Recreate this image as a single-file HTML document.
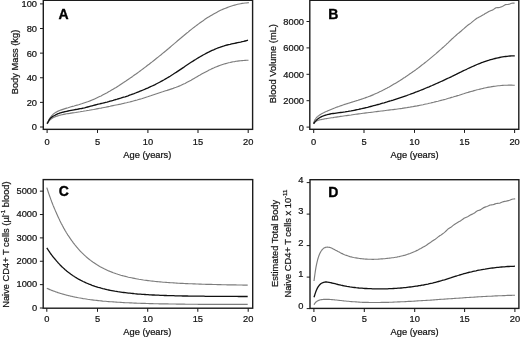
<!DOCTYPE html>
<html lang="en"><head><meta charset="utf-8"><title>Figure</title>
<style>html,body{margin:0;padding:0;background:#fff}svg{display:block;filter:grayscale(1)}text{font-family:"Liberation Sans",Arial,Helvetica,sans-serif;font-size:9.3px;fill:#111;stroke:#111;stroke-width:0.22px}.pl{font-size:14px;font-weight:bold;fill:#000;stroke:#000;stroke-width:0.35px;stroke-linejoin:round}.sup{font-size:6px}</style></head><body>
<svg width="520" height="337" viewBox="0 0 520 337">
<rect width="520" height="337" fill="#fff"/>
<g>
<rect x="43.3" y="0.3" width="209.30" height="129.05" fill="none" stroke="#1c1c1c" stroke-width="1.4"/>
<line x1="47.1" y1="129.35" x2="47.1" y2="132.95" stroke="#1c1c1c" stroke-width="1.05"/>
<text x="47.1" y="145.3" text-anchor="middle">0</text>
<line x1="97.5" y1="129.35" x2="97.5" y2="132.95" stroke="#1c1c1c" stroke-width="1.05"/>
<text x="97.5" y="145.3" text-anchor="middle">5</text>
<line x1="147.9" y1="129.35" x2="147.9" y2="132.95" stroke="#1c1c1c" stroke-width="1.05"/>
<text x="147.9" y="145.3" text-anchor="middle">10</text>
<line x1="198" y1="129.35" x2="198" y2="132.95" stroke="#1c1c1c" stroke-width="1.05"/>
<text x="198" y="145.3" text-anchor="middle">15</text>
<line x1="248.2" y1="129.35" x2="248.2" y2="132.95" stroke="#1c1c1c" stroke-width="1.05"/>
<text x="248.2" y="145.3" text-anchor="middle">20</text>
<line x1="40.00" y1="127.00" x2="43.3" y2="127.00" stroke="#1c1c1c" stroke-width="1.0"/>
<text x="37" y="130.40" text-anchor="end">0</text>
<line x1="40.00" y1="102.38" x2="43.3" y2="102.38" stroke="#1c1c1c" stroke-width="1.0"/>
<text x="37" y="105.78" text-anchor="end">20</text>
<line x1="40.00" y1="77.76" x2="43.3" y2="77.76" stroke="#1c1c1c" stroke-width="1.0"/>
<text x="37" y="81.16" text-anchor="end">40</text>
<line x1="40.00" y1="53.14" x2="43.3" y2="53.14" stroke="#1c1c1c" stroke-width="1.0"/>
<text x="37" y="56.54" text-anchor="end">60</text>
<line x1="40.00" y1="28.52" x2="43.3" y2="28.52" stroke="#1c1c1c" stroke-width="1.0"/>
<text x="37" y="31.92" text-anchor="end">80</text>
<line x1="40.00" y1="3.90" x2="43.3" y2="3.90" stroke="#1c1c1c" stroke-width="1.0"/>
<text x="37" y="7.30" text-anchor="end">100</text>
<text x="147.3" y="158" text-anchor="middle">Age (years)</text>
<text transform="translate(18.4,62) rotate(-90)" text-anchor="middle">Body Mass (kg)</text>
<text class="pl" transform="translate(58.6,18.8)">A</text>
<path d="M47.1,123.3 L47.6,122.4 L48.1,121.4 L48.6,120.4 L49.1,119.5 L49.6,118.6 L50.1,117.8 L50.6,117.1 L51.1,116.5 L51.6,115.9 L52.1,115.3 L52.6,114.8 L53.1,114.3 L53.6,113.9 L54.1,113.5 L54.6,113.1 L55.1,112.8 L55.6,112.4 L56.1,112.2 L56.6,111.9 L57.1,111.6 L57.6,111.4 L58.1,111.1 L58.6,110.9 L59.1,110.7 L59.6,110.5 L60.1,110.3 L60.6,110.1 L62.1,109.6 L63.6,109.1 L65.1,108.6 L66.6,108.1 L68.1,107.7 L69.6,107.2 L71.1,106.8 L72.6,106.4 L74.1,106.0 L75.6,105.5 L77.1,105.1 L78.6,104.7 L80.1,104.2 L81.6,103.8 L83.1,103.3 L84.6,102.8 L86.1,102.3 L87.6,101.8 L89.1,101.2 L90.6,100.6 L92.1,100.0 L93.6,99.4 L95.1,98.7 L96.6,98.0 L98.1,97.3 L99.6,96.6 L101.1,95.9 L102.6,95.1 L104.1,94.3 L105.6,93.5 L107.1,92.7 L108.6,91.8 L110.1,91.0 L111.6,90.1 L113.1,89.2 L114.6,88.3 L116.1,87.4 L117.6,86.4 L119.1,85.5 L120.6,84.5 L122.1,83.5 L123.6,82.6 L125.1,81.6 L126.6,80.5 L128.1,79.5 L129.6,78.5 L131.1,77.4 L132.6,76.4 L134.1,75.3 L135.6,74.3 L137.1,73.2 L138.6,72.1 L140.1,71.0 L141.6,69.9 L143.1,68.8 L144.6,67.6 L146.1,66.5 L147.6,65.3 L149.1,64.2 L150.6,63.0 L152.1,61.9 L153.6,60.7 L155.1,59.5 L156.6,58.3 L158.1,57.1 L159.6,55.9 L161.1,54.7 L162.6,53.4 L164.1,52.2 L165.6,51.0 L167.1,49.7 L168.6,48.5 L170.1,47.2 L171.6,45.9 L173.1,44.6 L174.6,43.4 L176.1,42.1 L177.6,40.8 L179.1,39.5 L180.6,38.3 L182.1,37.0 L183.6,35.8 L185.1,34.5 L186.6,33.3 L188.1,32.1 L189.6,30.8 L191.1,29.6 L192.6,28.4 L194.1,27.3 L195.6,26.1 L197.1,25.0 L198.6,23.9 L200.1,22.8 L201.6,21.7 L203.1,20.7 L204.6,19.6 L206.1,18.6 L207.6,17.6 L209.1,16.7 L210.6,15.8 L212.1,14.9 L213.6,14.0 L215.1,13.2 L216.6,12.4 L218.1,11.6 L219.6,10.8 L221.1,10.1 L222.6,9.4 L224.1,8.8 L225.6,8.2 L227.1,7.6 L228.6,7.0 L230.1,6.5 L231.6,6.0 L233.1,5.5 L234.6,5.1 L236.1,4.7 L237.6,4.3 L239.1,4.0 L240.6,3.7 L242.1,3.4 L243.6,3.2 L245.1,3.0 L246.6,2.9 L248.1,2.7 L249.0,2.7" fill="none" stroke="#7d7d7d" stroke-width="1.15" stroke-linejoin="round" stroke-linecap="butt"/>
<path d="M47.1,124.1 L47.6,123.0 L48.1,122.2 L48.6,121.5 L49.1,120.9 L49.6,120.3 L50.1,119.8 L50.6,119.4 L51.1,119.0 L51.6,118.7 L52.1,118.3 L52.6,118.0 L53.1,117.7 L53.6,117.5 L54.1,117.2 L54.6,117.0 L55.1,116.8 L55.6,116.6 L56.1,116.4 L56.6,116.2 L57.1,116.1 L57.6,115.9 L58.1,115.7 L58.6,115.6 L59.1,115.4 L59.6,115.3 L60.1,115.2 L60.6,115.0 L62.1,114.7 L63.6,114.4 L65.1,114.1 L66.6,113.8 L68.1,113.6 L69.6,113.4 L71.1,113.1 L72.6,112.9 L74.1,112.7 L75.6,112.5 L77.1,112.2 L78.6,112.0 L80.1,111.8 L81.6,111.5 L83.1,111.3 L84.6,111.0 L86.1,110.8 L87.6,110.5 L89.1,110.3 L90.6,110.0 L92.1,109.7 L93.6,109.5 L95.1,109.2 L96.6,108.9 L98.1,108.6 L99.6,108.3 L101.1,108.1 L102.6,107.8 L104.1,107.5 L105.6,107.2 L107.1,106.9 L108.6,106.6 L110.1,106.3 L111.6,105.9 L113.1,105.6 L114.6,105.3 L116.1,105.0 L117.6,104.7 L119.1,104.4 L120.6,104.1 L122.1,103.7 L123.6,103.4 L125.1,103.0 L126.6,102.7 L128.1,102.3 L129.6,102.0 L131.1,101.6 L132.6,101.2 L134.1,100.8 L135.6,100.4 L137.1,100.0 L138.6,99.5 L140.1,99.1 L141.6,98.7 L143.1,98.2 L144.6,97.7 L146.1,97.2 L147.6,96.8 L149.1,96.3 L150.6,95.8 L152.1,95.2 L153.6,94.7 L155.1,94.2 L156.6,93.7 L158.1,93.2 L159.6,92.7 L161.1,92.2 L162.6,91.8 L164.1,91.3 L165.6,90.8 L167.1,90.4 L168.6,89.9 L170.1,89.4 L171.6,88.9 L173.1,88.4 L174.6,87.8 L176.1,87.3 L177.6,86.7 L179.1,86.1 L180.6,85.5 L182.1,84.8 L183.6,84.1 L185.1,83.4 L186.6,82.6 L188.1,81.8 L189.6,81.0 L191.1,80.2 L192.6,79.3 L194.1,78.4 L195.6,77.6 L197.1,76.7 L198.6,75.8 L200.1,75.0 L201.6,74.1 L203.1,73.3 L204.6,72.5 L206.1,71.7 L207.6,70.9 L209.1,70.1 L210.6,69.4 L212.1,68.6 L213.6,68.0 L215.1,67.3 L216.6,66.7 L218.1,66.1 L219.6,65.5 L221.1,65.0 L222.6,64.5 L224.1,64.0 L225.6,63.6 L227.1,63.2 L228.6,62.8 L230.1,62.5 L231.6,62.1 L233.1,61.8 L234.6,61.6 L236.1,61.3 L237.6,61.1 L239.1,60.9 L240.6,60.7 L242.1,60.6 L243.6,60.5 L245.1,60.4 L246.6,60.3 L248.1,60.2 L248.5,60.2" fill="none" stroke="#7d7d7d" stroke-width="1.15" stroke-linejoin="round" stroke-linecap="butt"/>
<path d="M47.1,123.7 L47.6,123.0 L48.1,122.0 L48.6,121.0 L49.1,120.1 L49.6,119.3 L50.1,118.7 L50.6,118.1 L51.1,117.7 L51.6,117.3 L52.1,116.9 L52.6,116.6 L53.1,116.3 L53.6,116.0 L54.1,115.7 L54.6,115.5 L55.1,115.2 L55.6,114.9 L56.1,114.7 L56.6,114.4 L57.1,114.2 L57.6,113.9 L58.1,113.7 L58.6,113.5 L59.1,113.3 L59.6,113.1 L60.1,112.9 L60.6,112.8 L62.1,112.3 L63.6,112.0 L65.1,111.6 L66.6,111.3 L68.1,111.0 L69.6,110.7 L71.1,110.4 L72.6,110.1 L74.1,109.8 L75.6,109.5 L77.1,109.3 L78.6,109.0 L80.1,108.7 L81.6,108.5 L83.1,108.1 L84.6,107.8 L86.1,107.4 L87.6,107.0 L89.1,106.6 L90.6,106.2 L92.1,105.8 L93.6,105.4 L95.1,105.0 L96.6,104.6 L98.1,104.2 L99.6,103.9 L101.1,103.5 L102.6,103.2 L104.1,102.8 L105.6,102.4 L107.1,102.1 L108.6,101.7 L110.1,101.2 L111.6,100.8 L113.1,100.4 L114.6,99.9 L116.1,99.5 L117.6,99.0 L119.1,98.6 L120.6,98.2 L122.1,97.7 L123.6,97.2 L125.1,96.8 L126.6,96.3 L128.1,95.8 L129.6,95.2 L131.1,94.7 L132.6,94.1 L134.1,93.6 L135.6,93.0 L137.1,92.4 L138.6,91.8 L140.1,91.2 L141.6,90.6 L143.1,90.0 L144.6,89.4 L146.1,88.7 L147.6,88.1 L149.1,87.4 L150.6,86.7 L152.1,86.0 L153.6,85.3 L155.1,84.6 L156.6,83.8 L158.1,83.0 L159.6,82.2 L161.1,81.4 L162.6,80.6 L164.1,79.8 L165.6,78.9 L167.1,78.0 L168.6,77.1 L170.1,76.2 L171.6,75.2 L173.1,74.3 L174.6,73.3 L176.1,72.4 L177.6,71.4 L179.1,70.4 L180.6,69.4 L182.1,68.4 L183.6,67.4 L185.1,66.3 L186.6,65.3 L188.1,64.3 L189.6,63.3 L191.1,62.3 L192.6,61.4 L194.1,60.4 L195.6,59.5 L197.1,58.5 L198.6,57.6 L200.1,56.7 L201.6,55.9 L203.1,55.0 L204.6,54.2 L206.1,53.4 L207.6,52.6 L209.1,51.9 L210.6,51.1 L212.1,50.4 L213.6,49.8 L215.1,49.1 L216.6,48.5 L218.1,47.9 L219.6,47.4 L221.1,46.8 L222.6,46.3 L224.1,45.9 L225.6,45.4 L227.1,45.0 L228.6,44.6 L230.1,44.3 L231.6,43.9 L233.1,43.6 L234.6,43.3 L236.1,43.0 L237.6,42.7 L239.1,42.4 L240.6,42.1 L242.1,41.7 L243.6,41.4 L245.1,41.0 L246.6,40.6 L248.0,40.2" fill="none" stroke="#111" stroke-width="1.3" stroke-linejoin="round" stroke-linecap="butt"/>
</g>
<g>
<rect x="309.8" y="0.3" width="209.00" height="129.00" fill="none" stroke="#1c1c1c" stroke-width="1.4"/>
<line x1="313.7" y1="129.3" x2="313.7" y2="132.90" stroke="#1c1c1c" stroke-width="1.05"/>
<text x="313.7" y="145.3" text-anchor="middle">0</text>
<line x1="364" y1="129.3" x2="364" y2="132.90" stroke="#1c1c1c" stroke-width="1.05"/>
<text x="364" y="145.3" text-anchor="middle">5</text>
<line x1="414.5" y1="129.3" x2="414.5" y2="132.90" stroke="#1c1c1c" stroke-width="1.05"/>
<text x="414.5" y="145.3" text-anchor="middle">10</text>
<line x1="464.5" y1="129.3" x2="464.5" y2="132.90" stroke="#1c1c1c" stroke-width="1.05"/>
<text x="464.5" y="145.3" text-anchor="middle">15</text>
<line x1="514.6" y1="129.3" x2="514.6" y2="132.90" stroke="#1c1c1c" stroke-width="1.05"/>
<text x="514.6" y="145.3" text-anchor="middle">20</text>
<line x1="306.50" y1="127.10" x2="309.8" y2="127.10" stroke="#1c1c1c" stroke-width="1.0"/>
<text x="304" y="130.50" text-anchor="end">0</text>
<line x1="306.50" y1="100.70" x2="309.8" y2="100.70" stroke="#1c1c1c" stroke-width="1.0"/>
<text x="304" y="104.10" text-anchor="end">2000</text>
<line x1="306.50" y1="74.30" x2="309.8" y2="74.30" stroke="#1c1c1c" stroke-width="1.0"/>
<text x="304" y="77.70" text-anchor="end">4000</text>
<line x1="306.50" y1="47.90" x2="309.8" y2="47.90" stroke="#1c1c1c" stroke-width="1.0"/>
<text x="304" y="51.30" text-anchor="end">6000</text>
<line x1="306.50" y1="21.50" x2="309.8" y2="21.50" stroke="#1c1c1c" stroke-width="1.0"/>
<text x="304" y="24.90" text-anchor="end">8000</text>
<text x="414.6" y="158" text-anchor="middle">Age (years)</text>
<text transform="translate(276,63.6) rotate(-90)" text-anchor="middle">Blood Volume (mL)</text>
<text class="pl" transform="translate(328.3,18.9)">B</text>
<path d="M313.6,123.4 L314.1,121.7 L314.6,120.5 L314.8,120.1 L315.1,119.5 L315.6,118.8 L316.0,118.2 L316.1,118.1 L316.6,117.5 L317.1,117.0 L317.2,116.9 L317.6,116.6 L318.1,116.1 L318.4,115.9 L318.6,115.7 L319.1,115.4 L319.6,115.0 L319.6,115.0 L320.1,114.7 L320.6,114.4 L320.8,114.3 L321.1,114.1 L321.6,113.8 L322.0,113.6 L322.1,113.5 L322.6,113.2 L323.1,113.0 L323.2,112.9 L323.6,112.7 L324.1,112.5 L324.4,112.3 L324.6,112.2 L325.1,112.0 L325.6,111.8 L325.6,111.8 L326.1,111.5 L326.6,111.3 L326.8,111.2 L327.1,111.1 L328.0,110.7 L329.2,110.2 L330.4,109.7 L331.6,109.2 L332.8,108.7 L334.0,108.2 L335.2,107.8 L336.4,107.3 L337.6,106.9 L338.8,106.5 L340.0,106.0 L341.2,105.6 L342.4,105.2 L343.6,104.8 L344.8,104.4 L346.0,104.0 L347.2,103.6 L348.4,103.2 L349.6,102.9 L350.8,102.5 L352.0,102.1 L353.2,101.7 L354.4,101.4 L355.6,101.0 L356.8,100.6 L358.0,100.3 L359.2,99.9 L360.4,99.5 L361.6,99.1 L362.8,98.7 L364.0,98.3 L365.2,97.9 L366.4,97.4 L367.6,97.0 L368.8,96.5 L370.0,96.1 L371.2,95.6 L372.4,95.1 L373.6,94.6 L374.8,94.0 L376.0,93.5 L377.2,93.0 L378.4,92.4 L379.6,91.8 L380.8,91.3 L382.0,90.7 L383.2,90.1 L384.4,89.4 L385.6,88.8 L386.8,88.2 L388.0,87.5 L389.2,86.9 L390.4,86.2 L391.6,85.5 L392.8,84.8 L394.0,84.1 L395.2,83.4 L396.4,82.7 L397.6,81.9 L398.8,81.2 L400.0,80.5 L401.2,79.7 L402.4,78.9 L403.6,78.1 L404.8,77.4 L406.0,76.6 L407.2,75.8 L408.4,74.9 L409.6,74.1 L410.8,73.3 L412.0,72.4 L413.2,71.6 L414.4,70.7 L415.6,69.9 L416.8,69.0 L418.0,68.1 L419.2,67.2 L420.4,66.3 L421.6,65.3 L422.8,64.4 L424.0,63.5 L425.2,62.5 L426.4,61.6 L427.6,60.6 L428.8,59.6 L430.0,58.6 L431.2,57.6 L432.4,56.6 L433.6,55.6 L434.8,54.6 L436.0,53.6 L437.2,52.5 L438.4,51.5 L439.6,50.4 L440.8,49.4 L442.0,48.3 L443.2,47.3 L444.4,46.2 L445.6,45.1 L446.8,43.9 L448.0,42.8 L449.2,41.6 L450.4,40.5 L451.6,39.3 L452.8,38.3 L454.0,37.2 L455.2,36.1 L456.4,35.0 L457.6,33.9 L458.8,33.0 L460.0,32.0 L461.2,31.0 L462.4,29.9 L463.6,28.9 L464.8,27.8 L466.0,26.8 L467.2,25.7 L468.4,24.8 L469.6,24.0 L470.8,23.1 L472.0,22.1 L473.2,21.1 L474.4,20.1 L475.6,19.2 L476.8,18.3 L478.0,17.7 L479.2,17.1 L480.4,16.5 L481.6,15.8 L482.8,15.1 L484.0,14.4 L485.2,13.6 L486.4,12.9 L487.6,12.2 L488.8,11.5 L490.0,11.0 L491.2,10.5 L492.4,10.1 L493.6,9.4 L494.8,8.5 L496.0,7.7 L497.2,7.6 L498.4,7.6 L499.6,7.5 L500.8,7.0 L502.0,6.6 L503.2,6.0 L504.4,5.3 L505.6,4.6 L506.8,4.5 L508.0,4.4 L509.2,4.2 L510.4,3.7 L511.6,3.2 L512.8,3.1 L514.0,3.1 L514.6,3.1" fill="none" stroke="#7d7d7d" stroke-width="1.15" stroke-linejoin="round" stroke-linecap="butt"/>
<path d="M313.6,124.0 L314.1,123.0 L314.6,122.3 L315.1,121.8 L315.6,121.4 L316.1,121.1 L316.6,120.9 L317.1,120.7 L317.6,120.5 L318.1,120.3 L318.6,120.2 L319.1,120.0 L319.6,119.9 L320.1,119.8 L320.6,119.7 L321.1,119.6 L321.6,119.5 L322.1,119.4 L322.6,119.3 L323.1,119.2 L323.6,119.1 L324.1,119.0 L324.6,118.9 L325.1,118.8 L325.6,118.7 L326.1,118.6 L326.6,118.6 L327.1,118.5 L328.6,118.2 L330.1,118.0 L331.6,117.8 L333.1,117.6 L334.6,117.3 L336.1,117.1 L337.6,116.9 L339.1,116.7 L340.6,116.4 L342.1,116.2 L343.6,116.0 L345.1,115.8 L346.6,115.6 L348.1,115.4 L349.6,115.2 L351.1,115.0 L352.6,114.7 L354.1,114.5 L355.6,114.3 L357.1,114.1 L358.6,113.9 L360.1,113.7 L361.6,113.5 L363.1,113.3 L364.6,113.1 L366.1,112.9 L367.6,112.7 L369.1,112.5 L370.6,112.4 L372.1,112.2 L373.6,112.0 L375.1,111.8 L376.6,111.6 L378.1,111.4 L379.6,111.2 L381.1,111.0 L382.6,110.9 L384.1,110.7 L385.6,110.5 L387.1,110.3 L388.6,110.1 L390.1,109.9 L391.6,109.8 L393.1,109.6 L394.6,109.4 L396.1,109.2 L397.6,109.0 L399.1,108.8 L400.6,108.6 L402.1,108.4 L403.6,108.1 L405.1,107.9 L406.6,107.7 L408.1,107.4 L409.6,107.2 L411.1,106.9 L412.6,106.7 L414.1,106.4 L415.6,106.1 L417.1,105.9 L418.6,105.6 L420.1,105.3 L421.6,105.0 L423.1,104.7 L424.6,104.3 L426.1,104.0 L427.6,103.7 L429.1,103.3 L430.6,103.0 L432.1,102.6 L433.6,102.3 L435.1,101.9 L436.6,101.5 L438.1,101.2 L439.6,100.8 L441.1,100.4 L442.6,100.0 L444.1,99.6 L445.6,99.2 L447.1,98.7 L448.6,98.3 L450.1,97.9 L451.6,97.4 L453.1,97.0 L454.6,96.5 L456.1,96.1 L457.6,95.6 L459.1,95.2 L460.6,94.7 L462.1,94.2 L463.6,93.8 L465.1,93.3 L466.6,92.8 L468.1,92.4 L469.6,91.9 L471.1,91.5 L472.6,91.1 L474.1,90.6 L475.6,90.2 L477.1,89.8 L478.6,89.5 L480.1,89.1 L481.6,88.7 L483.1,88.4 L484.6,88.0 L486.1,87.7 L487.6,87.4 L489.1,87.1 L490.6,86.9 L492.1,86.6 L493.6,86.4 L495.1,86.2 L496.6,86.0 L498.1,85.8 L499.6,85.7 L501.1,85.5 L502.6,85.4 L504.1,85.3 L505.6,85.2 L507.1,85.2 L508.6,85.1 L510.1,85.1 L511.6,85.1 L513.1,85.2 L514.6,85.2 L514.8,85.2" fill="none" stroke="#7d7d7d" stroke-width="1.15" stroke-linejoin="round" stroke-linecap="butt"/>
<path d="M313.6,123.7 L314.1,123.0 L314.6,122.3 L315.1,121.6 L315.6,121.1 L316.1,120.5 L316.6,120.0 L317.1,119.6 L317.6,119.1 L318.1,118.7 L318.6,118.4 L319.1,118.0 L319.6,117.7 L320.1,117.4 L320.6,117.2 L321.1,116.9 L321.6,116.6 L322.1,116.4 L322.6,116.2 L323.1,116.0 L323.6,115.8 L324.1,115.6 L324.6,115.4 L325.1,115.3 L325.6,115.1 L326.1,115.0 L326.6,114.8 L327.1,114.7 L328.6,114.3 L330.1,114.0 L331.6,113.7 L333.1,113.5 L334.6,113.3 L336.1,113.1 L337.6,112.9 L339.1,112.7 L340.6,112.5 L342.1,112.3 L343.6,112.1 L345.1,111.9 L346.6,111.6 L348.1,111.4 L349.6,111.1 L351.1,110.9 L352.6,110.6 L354.1,110.3 L355.6,110.0 L357.1,109.7 L358.6,109.4 L360.1,109.0 L361.6,108.7 L363.1,108.3 L364.6,108.0 L366.1,107.6 L367.6,107.3 L369.1,106.9 L370.6,106.5 L372.1,106.1 L373.6,105.7 L375.1,105.3 L376.6,104.9 L378.1,104.5 L379.6,104.1 L381.1,103.6 L382.6,103.2 L384.1,102.8 L385.6,102.3 L387.1,101.9 L388.6,101.4 L390.1,101.0 L391.6,100.5 L393.1,100.1 L394.6,99.6 L396.1,99.1 L397.6,98.6 L399.1,98.1 L400.6,97.6 L402.1,97.1 L403.6,96.6 L405.1,96.1 L406.6,95.6 L408.1,95.0 L409.6,94.5 L411.1,93.9 L412.6,93.4 L414.1,92.8 L415.6,92.2 L417.1,91.7 L418.6,91.1 L420.1,90.5 L421.6,89.9 L423.1,89.3 L424.6,88.7 L426.1,88.0 L427.6,87.4 L429.1,86.8 L430.6,86.1 L432.1,85.5 L433.6,84.8 L435.1,84.2 L436.6,83.5 L438.1,82.8 L439.6,82.2 L441.1,81.5 L442.6,80.8 L444.1,80.1 L445.6,79.4 L447.1,78.7 L448.6,78.0 L450.1,77.3 L451.6,76.6 L453.1,75.8 L454.6,75.1 L456.1,74.4 L457.6,73.6 L459.1,72.9 L460.6,72.2 L462.1,71.4 L463.6,70.7 L465.1,70.0 L466.6,69.3 L468.1,68.5 L469.6,67.8 L471.1,67.2 L472.6,66.5 L474.1,65.8 L475.6,65.2 L477.1,64.5 L478.6,63.9 L480.1,63.3 L481.6,62.7 L483.1,62.2 L484.6,61.6 L486.1,61.1 L487.6,60.6 L489.1,60.2 L490.6,59.7 L492.1,59.3 L493.6,58.9 L495.1,58.5 L496.6,58.1 L498.1,57.8 L499.6,57.5 L501.1,57.2 L502.6,56.9 L504.1,56.7 L505.6,56.5 L507.1,56.3 L508.6,56.1 L510.1,56.0 L511.6,55.9 L513.1,55.8 L514.6,55.8 L514.8,55.8" fill="none" stroke="#111" stroke-width="1.3" stroke-linejoin="round" stroke-linecap="butt"/>
</g>
<g>
<rect x="43.2" y="179.6" width="209.50" height="128.60" fill="none" stroke="#1c1c1c" stroke-width="1.4"/>
<line x1="46.8" y1="308.2" x2="46.8" y2="311.80" stroke="#1c1c1c" stroke-width="1.05"/>
<text x="46.8" y="321.8" text-anchor="middle">0</text>
<line x1="97.5" y1="308.2" x2="97.5" y2="311.80" stroke="#1c1c1c" stroke-width="1.05"/>
<text x="97.5" y="321.8" text-anchor="middle">5</text>
<line x1="147.7" y1="308.2" x2="147.7" y2="311.80" stroke="#1c1c1c" stroke-width="1.05"/>
<text x="147.7" y="321.8" text-anchor="middle">10</text>
<line x1="197.8" y1="308.2" x2="197.8" y2="311.80" stroke="#1c1c1c" stroke-width="1.05"/>
<text x="197.8" y="321.8" text-anchor="middle">15</text>
<line x1="248.2" y1="308.2" x2="248.2" y2="311.80" stroke="#1c1c1c" stroke-width="1.05"/>
<text x="248.2" y="321.8" text-anchor="middle">20</text>
<line x1="39.90" y1="308.00" x2="43.2" y2="308.00" stroke="#1c1c1c" stroke-width="1.0"/>
<text x="37.2" y="310.70" text-anchor="end">0</text>
<line x1="39.90" y1="284.63" x2="43.2" y2="284.63" stroke="#1c1c1c" stroke-width="1.0"/>
<text x="37.2" y="287.33" text-anchor="end">1000</text>
<line x1="39.90" y1="261.26" x2="43.2" y2="261.26" stroke="#1c1c1c" stroke-width="1.0"/>
<text x="37.2" y="263.96" text-anchor="end">2000</text>
<line x1="39.90" y1="237.89" x2="43.2" y2="237.89" stroke="#1c1c1c" stroke-width="1.0"/>
<text x="37.2" y="240.59" text-anchor="end">3000</text>
<line x1="39.90" y1="214.52" x2="43.2" y2="214.52" stroke="#1c1c1c" stroke-width="1.0"/>
<text x="37.2" y="217.22" text-anchor="end">4000</text>
<line x1="39.90" y1="191.15" x2="43.2" y2="191.15" stroke="#1c1c1c" stroke-width="1.0"/>
<text x="37.2" y="193.85" text-anchor="end">5000</text>
<text x="147.3" y="334.8" text-anchor="middle">Age (years)</text>
<text transform="translate(8.7,244.6) rotate(-90)" text-anchor="middle">Naive CD4+ T cells (&#181;l<tspan class="sup" dy="-3.6">-1</tspan><tspan dy="3.6"> blood)</tspan></text>
<text class="pl" transform="translate(58.8,196.4)">C</text>
<path d="M46.8,187.6 L47.3,189.1 L47.8,190.7 L48.3,192.2 L48.8,193.6 L49.3,195.1 L49.8,196.5 L50.3,197.9 L50.8,199.3 L51.3,200.6 L51.8,202.0 L52.3,203.3 L52.8,204.6 L53.3,205.9 L53.8,207.1 L54.4,208.4 L54.9,209.6 L55.4,210.8 L55.9,211.9 L56.4,213.1 L56.9,214.2 L57.4,215.3 L57.9,216.4 L58.4,217.5 L58.9,218.6 L59.4,219.6 L59.9,220.7 L60.4,221.7 L60.9,222.7 L61.4,223.7 L61.9,224.6 L62.4,225.6 L62.9,226.5 L63.4,227.4 L63.9,228.4 L64.4,229.2 L64.9,230.1 L65.4,231.0 L65.9,231.8 L66.4,232.7 L66.9,233.5 L67.4,234.3 L67.9,235.1 L68.5,235.9 L69.0,236.7 L69.5,237.4 L70.0,238.2 L70.5,238.9 L71.0,239.6 L71.5,240.3 L72.0,241.0 L72.5,241.7 L73.0,242.4 L73.5,243.1 L74.0,243.7 L74.5,244.4 L75.0,245.0 L75.5,245.6 L76.0,246.2 L76.5,246.8 L77.0,247.4 L78.5,249.2 L80.0,250.8 L81.5,252.4 L83.1,253.9 L84.6,255.3 L86.1,256.7 L87.6,258.0 L89.1,259.2 L90.6,260.4 L92.1,261.5 L93.6,262.6 L95.1,263.6 L96.6,264.6 L98.2,265.5 L99.7,266.4 L101.2,267.2 L102.7,268.0 L104.2,268.8 L105.7,269.5 L107.2,270.2 L108.7,270.9 L110.2,271.5 L111.8,272.1 L113.3,272.7 L114.8,273.2 L116.3,273.8 L117.8,274.3 L119.3,274.7 L120.8,275.2 L122.3,275.6 L123.8,276.0 L125.3,276.4 L126.9,276.8 L128.4,277.2 L129.9,277.5 L131.4,277.8 L132.9,278.1 L134.4,278.4 L135.9,278.7 L137.4,279.0 L138.9,279.3 L140.5,279.5 L142.0,279.7 L143.5,280.0 L145.0,280.2 L146.5,280.4 L148.0,280.6 L149.5,280.8 L151.0,281.0 L152.5,281.1 L154.0,281.3 L155.6,281.5 L157.1,281.6 L158.6,281.8 L160.1,281.9 L161.6,282.0 L163.1,282.2 L164.6,282.3 L166.1,282.4 L167.6,282.5 L169.2,282.6 L170.7,282.7 L172.2,282.8 L173.7,282.9 L175.2,283.0 L176.7,283.1 L178.2,283.2 L179.7,283.3 L181.2,283.3 L182.7,283.4 L184.3,283.5 L185.8,283.6 L187.3,283.6 L188.8,283.7 L190.3,283.7 L191.8,283.8 L193.3,283.9 L194.8,283.9 L196.3,284.0 L197.8,284.0 L199.4,284.1 L200.9,284.1 L202.4,284.2 L203.9,284.2 L205.4,284.3 L206.9,284.3 L208.4,284.4 L209.9,284.4 L211.4,284.4 L213.0,284.5 L214.5,284.5 L216.0,284.5 L217.5,284.6 L219.0,284.6 L220.5,284.6 L222.0,284.7 L223.5,284.7 L225.0,284.7 L226.5,284.8 L228.1,284.8 L229.6,284.8 L231.1,284.9 L232.6,284.9 L234.1,284.9 L235.6,284.9 L237.1,285.0 L238.6,285.0 L240.1,285.0 L241.7,285.0 L243.2,285.1 L244.7,285.1 L246.2,285.1 L247.7,285.1" fill="none" stroke="#7d7d7d" stroke-width="1.15" stroke-linejoin="round" stroke-linecap="butt"/>
<path d="M46.8,288.3 L47.3,288.5 L47.8,288.7 L48.3,288.9 L48.8,289.1 L49.3,289.4 L49.8,289.6 L50.3,289.8 L50.8,290.0 L51.3,290.2 L51.8,290.4 L52.3,290.6 L52.8,290.8 L53.3,291.0 L53.8,291.1 L54.4,291.3 L54.9,291.5 L55.4,291.7 L55.9,291.9 L56.4,292.0 L56.9,292.2 L57.4,292.4 L57.9,292.6 L58.4,292.7 L58.9,292.9 L59.4,293.0 L59.9,293.2 L60.4,293.4 L60.9,293.5 L61.4,293.7 L61.9,293.8 L62.4,294.0 L62.9,294.1 L63.4,294.3 L63.9,294.4 L64.4,294.5 L64.9,294.7 L65.4,294.8 L65.9,295.0 L66.4,295.1 L66.9,295.2 L67.4,295.3 L67.9,295.5 L68.5,295.6 L69.0,295.7 L69.5,295.8 L70.0,296.0 L70.5,296.1 L71.0,296.2 L71.5,296.3 L72.0,296.4 L72.5,296.5 L73.0,296.7 L73.5,296.8 L74.0,296.9 L74.5,297.0 L75.0,297.1 L75.5,297.2 L76.0,297.3 L76.5,297.4 L77.0,297.5 L78.5,297.8 L80.0,298.0 L81.5,298.3 L83.1,298.6 L84.6,298.8 L86.1,299.0 L87.6,299.3 L89.1,299.5 L90.6,299.7 L92.1,299.9 L93.6,300.1 L95.1,300.3 L96.6,300.4 L98.2,300.6 L99.7,300.8 L101.2,300.9 L102.7,301.1 L104.2,301.2 L105.7,301.3 L107.2,301.5 L108.7,301.6 L110.2,301.7 L111.8,301.8 L113.3,301.9 L114.8,302.0 L116.3,302.1 L117.8,302.2 L119.3,302.3 L120.8,302.4 L122.3,302.5 L123.8,302.6 L125.3,302.7 L126.9,302.7 L128.4,302.8 L129.9,302.9 L131.4,302.9 L132.9,303.0 L134.4,303.1 L135.9,303.1 L137.4,303.2 L138.9,303.2 L140.5,303.3 L142.0,303.3 L143.5,303.4 L145.0,303.4 L146.5,303.5 L148.0,303.5 L149.5,303.6 L151.0,303.6 L152.5,303.6 L154.0,303.7 L155.6,303.7 L157.1,303.7 L158.6,303.8 L160.1,303.8 L161.6,303.8 L163.1,303.9 L164.6,303.9 L166.1,303.9 L167.6,303.9 L169.2,304.0 L170.7,304.0 L172.2,304.0 L173.7,304.0 L175.2,304.0 L176.7,304.1 L178.2,304.1 L179.7,304.1 L181.2,304.1 L182.7,304.1 L184.3,304.1 L185.8,304.2 L187.3,304.2 L188.8,304.2 L190.3,304.2 L191.8,304.2 L193.3,304.2 L194.8,304.2 L196.3,304.2 L197.8,304.3 L199.4,304.3 L200.9,304.3 L202.4,304.3 L203.9,304.3 L205.4,304.3 L206.9,304.3 L208.4,304.3 L209.9,304.3 L211.4,304.3 L213.0,304.3 L214.5,304.3 L216.0,304.3 L217.5,304.4 L219.0,304.4 L220.5,304.4 L222.0,304.4 L223.5,304.4 L225.0,304.4 L226.5,304.4 L228.1,304.4 L229.6,304.4 L231.1,304.4 L232.6,304.4 L234.1,304.4 L235.6,304.4 L237.1,304.4 L238.6,304.4 L240.1,304.4 L241.7,304.4 L243.2,304.4 L244.7,304.4 L246.2,304.4 L247.7,304.4" fill="none" stroke="#7d7d7d" stroke-width="1.15" stroke-linejoin="round" stroke-linecap="butt"/>
<path d="M46.8,247.8 L47.3,248.6 L47.8,249.4 L48.3,250.1 L48.8,250.9 L49.3,251.6 L49.8,252.4 L50.3,253.1 L50.8,253.8 L51.3,254.5 L51.8,255.2 L52.3,255.8 L52.8,256.5 L53.3,257.1 L53.8,257.8 L54.4,258.4 L54.9,259.0 L55.4,259.6 L55.9,260.2 L56.4,260.8 L56.9,261.4 L57.4,261.9 L57.9,262.5 L58.4,263.1 L58.9,263.6 L59.4,264.1 L59.9,264.7 L60.4,265.2 L60.9,265.7 L61.4,266.2 L61.9,266.7 L62.4,267.2 L62.9,267.6 L63.4,268.1 L63.9,268.6 L64.4,269.0 L64.9,269.5 L65.4,269.9 L65.9,270.3 L66.4,270.7 L66.9,271.2 L67.4,271.6 L67.9,272.0 L68.5,272.4 L69.0,272.8 L69.5,273.1 L70.0,273.5 L70.5,273.9 L71.0,274.3 L71.5,274.6 L72.0,275.0 L72.5,275.3 L73.0,275.7 L73.5,276.0 L74.0,276.3 L74.5,276.7 L75.0,277.0 L75.5,277.3 L76.0,277.6 L76.5,277.9 L77.0,278.2 L78.5,279.1 L80.0,279.9 L81.5,280.7 L83.1,281.5 L84.6,282.2 L86.1,282.9 L87.6,283.5 L89.1,284.2 L90.6,284.7 L92.1,285.3 L93.6,285.8 L95.1,286.4 L96.6,286.8 L98.2,287.3 L99.7,287.7 L101.2,288.2 L102.7,288.6 L104.2,288.9 L105.7,289.3 L107.2,289.7 L108.7,290.0 L110.2,290.3 L111.8,290.6 L113.3,290.9 L114.8,291.2 L116.3,291.4 L117.8,291.7 L119.3,291.9 L120.8,292.1 L122.3,292.3 L123.8,292.5 L125.3,292.7 L126.9,292.9 L128.4,293.1 L129.9,293.2 L131.4,293.4 L132.9,293.5 L134.4,293.7 L135.9,293.8 L137.4,294.0 L138.9,294.1 L140.5,294.2 L142.0,294.3 L143.5,294.4 L145.0,294.5 L146.5,294.6 L148.0,294.7 L149.5,294.8 L151.0,294.9 L152.5,295.0 L154.0,295.0 L155.6,295.1 L157.1,295.2 L158.6,295.2 L160.1,295.3 L161.6,295.4 L163.1,295.4 L164.6,295.5 L166.1,295.5 L167.6,295.6 L169.2,295.6 L170.7,295.7 L172.2,295.7 L173.7,295.7 L175.2,295.8 L176.7,295.8 L178.2,295.9 L179.7,295.9 L181.2,295.9 L182.7,296.0 L184.3,296.0 L185.8,296.0 L187.3,296.0 L188.8,296.1 L190.3,296.1 L191.8,296.1 L193.3,296.1 L194.8,296.1 L196.3,296.2 L197.8,296.2 L199.4,296.2 L200.9,296.2 L202.4,296.2 L203.9,296.2 L205.4,296.3 L206.9,296.3 L208.4,296.3 L209.9,296.3 L211.4,296.3 L213.0,296.3 L214.5,296.3 L216.0,296.3 L217.5,296.4 L219.0,296.4 L220.5,296.4 L222.0,296.4 L223.5,296.4 L225.0,296.4 L226.5,296.4 L228.1,296.4 L229.6,296.4 L231.1,296.4 L232.6,296.4 L234.1,296.4 L235.6,296.4 L237.1,296.4 L238.6,296.5 L240.1,296.5 L241.7,296.5 L243.2,296.5 L244.7,296.5 L246.2,296.5 L247.7,296.5" fill="none" stroke="#111" stroke-width="1.3" stroke-linejoin="round" stroke-linecap="butt"/>
</g>
<g>
<rect x="310" y="179.7" width="208.90" height="128.70" fill="none" stroke="#1c1c1c" stroke-width="1.4"/>
<line x1="313.9" y1="308.4" x2="313.9" y2="312.00" stroke="#1c1c1c" stroke-width="1.05"/>
<text x="313.9" y="321.8" text-anchor="middle">0</text>
<line x1="364.3" y1="308.4" x2="364.3" y2="312.00" stroke="#1c1c1c" stroke-width="1.05"/>
<text x="364.3" y="321.8" text-anchor="middle">5</text>
<line x1="414.7" y1="308.4" x2="414.7" y2="312.00" stroke="#1c1c1c" stroke-width="1.05"/>
<text x="414.7" y="321.8" text-anchor="middle">10</text>
<line x1="464.6" y1="308.4" x2="464.6" y2="312.00" stroke="#1c1c1c" stroke-width="1.05"/>
<text x="464.6" y="321.8" text-anchor="middle">15</text>
<line x1="514.9" y1="308.4" x2="514.9" y2="312.00" stroke="#1c1c1c" stroke-width="1.05"/>
<text x="514.9" y="321.8" text-anchor="middle">20</text>
<line x1="306.70" y1="308.60" x2="310" y2="308.60" stroke="#1c1c1c" stroke-width="1.0"/>
<text x="303.3" y="308.90" text-anchor="end">0</text>
<line x1="306.70" y1="277.10" x2="310" y2="277.10" stroke="#1c1c1c" stroke-width="1.0"/>
<text x="303.3" y="277.40" text-anchor="end">1</text>
<line x1="306.70" y1="245.60" x2="310" y2="245.60" stroke="#1c1c1c" stroke-width="1.0"/>
<text x="303.3" y="245.90" text-anchor="end">2</text>
<line x1="306.70" y1="214.10" x2="310" y2="214.10" stroke="#1c1c1c" stroke-width="1.0"/>
<text x="303.3" y="214.40" text-anchor="end">3</text>
<line x1="306.70" y1="182.60" x2="310" y2="182.60" stroke="#1c1c1c" stroke-width="1.0"/>
<text x="303.3" y="182.90" text-anchor="end">4</text>
<text x="414.6" y="334.8" text-anchor="middle">Age (years)</text>
<text transform="translate(278.3,243.4) rotate(-90)" text-anchor="middle">Estimated Total Body</text>
<text transform="translate(290.7,243.6) rotate(-90)" text-anchor="middle">Naive CD4+ T cells x 10<tspan class="sup" dy="-3.6">-11</tspan></text>
<text class="pl" transform="translate(328.3,196.8)">D</text>
<path d="M314.0,281.0 L314.5,277.1 L315.0,273.5 L315.2,272.1 L315.5,270.2 L316.0,267.2 L316.4,265.1 L316.5,264.6 L317.0,262.3 L317.5,260.3 L317.6,259.9 L318.0,258.5 L318.5,256.9 L318.8,256.0 L319.0,255.5 L319.5,254.2 L320.0,253.1 L320.0,253.1 L320.5,252.2 L321.0,251.3 L321.2,251.0 L321.5,250.6 L322.0,249.9 L322.4,249.5 L322.5,249.3 L323.0,248.9 L323.5,248.4 L323.6,248.4 L324.0,248.1 L324.5,247.8 L324.8,247.7 L325.0,247.6 L325.5,247.4 L326.0,247.3 L326.0,247.3 L326.5,247.2 L327.0,247.1 L327.2,247.1 L327.5,247.1 L328.4,247.2 L329.6,247.4 L330.8,247.8 L332.0,248.3 L333.2,248.9 L334.4,249.5 L335.6,250.2 L336.8,250.8 L338.0,251.5 L339.2,252.1 L340.4,252.8 L341.6,253.4 L342.8,253.9 L344.0,254.5 L345.2,255.0 L346.4,255.4 L347.6,255.8 L348.8,256.2 L350.0,256.6 L351.2,256.9 L352.4,257.2 L353.6,257.5 L354.8,257.7 L356.0,257.9 L357.2,258.1 L358.4,258.3 L359.6,258.5 L360.8,258.6 L362.0,258.8 L363.2,258.9 L364.4,259.0 L365.6,259.1 L366.8,259.1 L368.0,259.2 L369.2,259.2 L370.4,259.2 L371.6,259.3 L372.8,259.3 L374.0,259.3 L375.2,259.2 L376.4,259.2 L377.6,259.2 L378.8,259.1 L380.0,259.0 L381.2,258.9 L382.4,258.9 L383.6,258.8 L384.8,258.7 L386.0,258.5 L387.2,258.4 L388.4,258.3 L389.6,258.1 L390.8,258.0 L392.0,257.8 L393.2,257.7 L394.4,257.5 L395.6,257.3 L396.8,257.1 L398.0,256.8 L399.2,256.6 L400.4,256.3 L401.6,256.0 L402.8,255.7 L404.0,255.4 L405.2,255.1 L406.4,254.7 L407.6,254.3 L408.8,253.9 L410.0,253.5 L411.2,253.0 L412.4,252.5 L413.6,252.0 L414.8,251.5 L416.0,250.9 L417.2,250.4 L418.4,249.8 L419.6,249.1 L420.8,248.5 L422.0,247.8 L423.2,247.1 L424.4,246.4 L425.6,245.7 L426.8,244.9 L428.0,244.1 L429.2,243.3 L430.4,242.5 L431.6,241.6 L432.8,240.8 L434.0,240.0 L435.2,239.3 L436.4,238.4 L437.6,237.4 L438.8,236.4 L440.0,235.6 L441.2,234.9 L442.4,234.0 L443.6,233.1 L444.8,232.1 L446.0,231.0 L447.2,229.8 L448.4,228.7 L449.6,227.9 L450.8,227.2 L452.0,226.4 L453.2,225.4 L454.4,224.5 L455.6,223.7 L456.8,223.0 L458.0,222.3 L459.2,221.6 L460.4,220.9 L461.6,220.1 L462.8,219.2 L464.0,218.3 L465.2,217.7 L466.4,217.2 L467.6,216.7 L468.8,216.0 L470.0,215.3 L471.2,214.6 L472.4,214.1 L473.6,213.5 L474.8,212.7 L476.0,211.8 L477.2,210.9 L478.4,210.5 L479.6,210.1 L480.8,209.6 L482.0,208.7 L483.2,207.9 L484.4,207.4 L485.6,206.9 L486.8,206.5 L488.0,206.0 L489.2,205.4 L490.4,205.0 L491.6,204.9 L492.8,204.8 L494.0,204.4 L495.2,203.9 L496.4,203.5 L497.6,203.4 L498.8,203.3 L500.0,203.1 L501.2,202.5 L502.4,202.0 L503.6,201.6 L504.8,201.4 L506.0,201.2 L507.2,200.9 L508.4,200.6 L509.6,200.3 L510.8,199.8 L512.0,199.3 L513.2,199.0 L514.4,198.9 L515.2,198.7" fill="none" stroke="#7d7d7d" stroke-width="1.15" stroke-linejoin="round" stroke-linecap="butt"/>
<path d="M314.0,304.8 L314.5,303.9 L315.0,303.1 L315.5,302.5 L316.0,302.0 L316.5,301.6 L317.0,301.2 L317.5,300.9 L318.0,300.7 L318.5,300.4 L319.0,300.2 L319.5,300.1 L320.0,299.9 L320.5,299.8 L321.0,299.7 L321.5,299.6 L322.0,299.6 L322.5,299.5 L323.0,299.5 L323.5,299.4 L324.0,299.4 L324.5,299.4 L325.0,299.3 L325.5,299.3 L326.0,299.3 L326.5,299.3 L327.0,299.3 L327.5,299.3 L329.0,299.4 L330.5,299.5 L332.0,299.6 L333.5,299.7 L335.0,299.9 L336.5,300.0 L338.0,300.2 L339.5,300.4 L341.0,300.5 L342.5,300.7 L344.0,300.9 L345.5,301.0 L347.0,301.2 L348.5,301.3 L350.0,301.5 L351.5,301.6 L353.0,301.7 L354.5,301.8 L356.0,301.9 L357.5,302.0 L359.0,302.1 L360.5,302.2 L362.0,302.3 L363.5,302.3 L365.0,302.4 L366.5,302.4 L368.0,302.4 L369.5,302.5 L371.0,302.5 L372.5,302.5 L374.0,302.5 L375.5,302.5 L377.0,302.5 L378.5,302.5 L380.0,302.5 L381.5,302.4 L383.0,302.4 L384.5,302.4 L386.0,302.3 L387.5,302.3 L389.0,302.3 L390.5,302.2 L392.0,302.2 L393.5,302.1 L395.0,302.0 L396.5,302.0 L398.0,301.9 L399.5,301.9 L401.0,301.8 L402.5,301.7 L404.0,301.7 L405.5,301.6 L407.0,301.5 L408.5,301.4 L410.0,301.3 L411.5,301.3 L413.0,301.2 L414.5,301.1 L416.0,301.0 L417.5,300.9 L419.0,300.8 L420.5,300.7 L422.0,300.6 L423.5,300.5 L425.0,300.5 L426.5,300.4 L428.0,300.3 L429.5,300.2 L431.0,300.1 L432.5,300.0 L434.0,299.9 L435.5,299.8 L437.0,299.6 L438.5,299.5 L440.0,299.4 L441.5,299.3 L443.0,299.2 L444.5,299.1 L446.0,299.0 L447.5,298.9 L449.0,298.8 L450.5,298.7 L452.0,298.6 L453.5,298.5 L455.0,298.4 L456.5,298.3 L458.0,298.2 L459.5,298.1 L461.0,298.0 L462.5,297.9 L464.0,297.7 L465.5,297.6 L467.0,297.5 L468.5,297.5 L470.0,297.4 L471.5,297.3 L473.0,297.2 L474.5,297.1 L476.0,297.0 L477.5,296.9 L479.0,296.8 L480.5,296.7 L482.0,296.6 L483.5,296.5 L485.0,296.5 L486.5,296.4 L488.0,296.3 L489.5,296.2 L491.0,296.2 L492.5,296.1 L494.0,296.0 L495.5,295.9 L497.0,295.9 L498.5,295.8 L500.0,295.7 L501.5,295.7 L503.0,295.6 L504.5,295.6 L506.0,295.5 L507.5,295.4 L509.0,295.4 L510.5,295.3 L512.0,295.3 L513.5,295.2 L515.0,295.2" fill="none" stroke="#7d7d7d" stroke-width="1.15" stroke-linejoin="round" stroke-linecap="butt"/>
<path d="M314.0,297.3 L314.5,295.7 L315.0,294.1 L315.5,292.6 L316.0,291.2 L316.5,290.0 L317.0,288.9 L317.5,287.9 L318.0,287.0 L318.5,286.3 L319.0,285.6 L319.5,285.0 L320.0,284.5 L320.5,284.0 L321.0,283.6 L321.5,283.3 L322.0,283.0 L322.5,282.8 L323.0,282.6 L323.5,282.4 L324.0,282.3 L324.5,282.2 L325.0,282.1 L325.5,282.0 L326.0,282.0 L326.5,282.0 L327.0,282.1 L327.5,282.1 L329.0,282.3 L330.5,282.6 L332.0,283.0 L333.5,283.3 L335.0,283.7 L336.5,284.1 L338.0,284.5 L339.5,284.8 L341.0,285.2 L342.5,285.5 L344.0,285.8 L345.5,286.1 L347.0,286.4 L348.5,286.6 L350.0,286.9 L351.5,287.1 L353.0,287.3 L354.5,287.5 L356.0,287.7 L357.5,287.8 L359.0,288.0 L360.5,288.1 L362.0,288.2 L363.5,288.4 L365.0,288.5 L366.5,288.5 L368.0,288.6 L369.5,288.7 L371.0,288.7 L372.5,288.8 L374.0,288.8 L375.5,288.9 L377.0,288.9 L378.5,288.9 L380.0,288.9 L381.5,288.9 L383.0,288.9 L384.5,288.8 L386.0,288.8 L387.5,288.8 L389.0,288.7 L390.5,288.7 L392.0,288.6 L393.5,288.5 L395.0,288.4 L396.5,288.3 L398.0,288.2 L399.5,288.1 L401.0,288.0 L402.5,287.9 L404.0,287.7 L405.5,287.6 L407.0,287.4 L408.5,287.2 L410.0,287.0 L411.5,286.8 L413.0,286.6 L414.5,286.4 L416.0,286.2 L417.5,286.0 L419.0,285.7 L420.5,285.5 L422.0,285.2 L423.5,285.0 L425.0,284.7 L426.5,284.4 L428.0,284.1 L429.5,283.7 L431.0,283.4 L432.5,283.1 L434.0,282.7 L435.5,282.3 L437.0,281.9 L438.5,281.5 L440.0,281.1 L441.5,280.7 L443.0,280.2 L444.5,279.8 L446.0,279.3 L447.5,278.8 L449.0,278.3 L450.5,277.9 L452.0,277.4 L453.5,276.9 L455.0,276.4 L456.5,276.0 L458.0,275.5 L459.5,275.0 L461.0,274.6 L462.5,274.2 L464.0,273.7 L465.5,273.3 L467.0,272.9 L468.5,272.5 L470.0,272.1 L471.5,271.8 L473.0,271.4 L474.5,271.1 L476.0,270.8 L477.5,270.4 L479.0,270.1 L480.5,269.9 L482.0,269.6 L483.5,269.3 L485.0,269.1 L486.5,268.8 L488.0,268.6 L489.5,268.4 L491.0,268.2 L492.5,268.0 L494.0,267.8 L495.5,267.6 L497.0,267.4 L498.5,267.3 L500.0,267.1 L501.5,267.0 L503.0,266.9 L504.5,266.8 L506.0,266.6 L507.5,266.5 L509.0,266.5 L510.5,266.4 L512.0,266.3 L513.5,266.3 L515.0,266.2" fill="none" stroke="#111" stroke-width="1.3" stroke-linejoin="round" stroke-linecap="butt"/>
</g>
</svg></body></html>
